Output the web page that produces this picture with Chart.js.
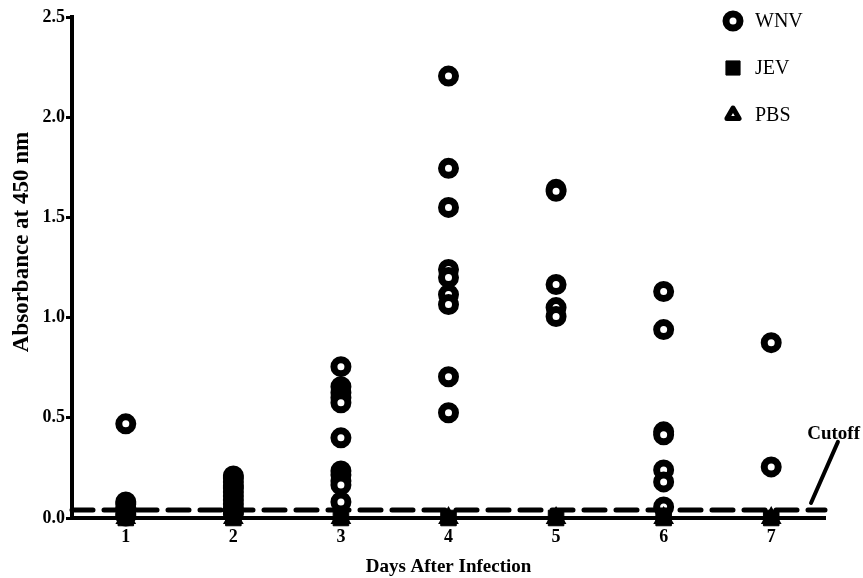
<!DOCTYPE html>
<html>
<head>
<meta charset="utf-8">
<script src="https://cdn.jsdelivr.net/npm/chart.js@4/dist/chart.umd.min.js"></script>
<style>
  html, body { margin: 0; padding: 0; background: #fff; }
</style>
</head>
<body>
<canvas id="myChart" width="863" height="578"></canvas>
<script>

// x axis: days after infection
let days = [1, 2, 3, 4, 5, 6, 7];
let dayLabels = ['1', '2', '3', '4', '5', '6', '7'];
let yTicks = [0, 0.5, 1.0, 1.5, 2.0, 2.5];

// WNV absorbance readings, one list per day
let wnvDay1 = [0.47, 0.08, 0.07, 0.05, 0.04, 0.02, 0.01];
let wnvDay2 = [0.21, 0.20, 0.18, 0.16, 0.15, 0.13, 0.11, 0.09, 0.07, 0.05, 0.03, 0.02];
let wnvDay3 = [0.755, 0.655, 0.625, 0.60, 0.575, 0.40, 0.235, 0.215, 0.185, 0.165, 0.08];
let wnvDay4 = [2.205, 1.745, 1.55, 1.24, 1.20, 1.115, 1.065, 0.705, 0.525];
let wnvDay5 = [1.64, 1.63, 1.165, 1.05, 1.005];
let wnvDay6 = [1.13, 0.94, 0.43, 0.415, 0.24, 0.18, 0.055];
let wnvDay7 = [0.875, 0.255];
let wnvByDay = [wnvDay1, wnvDay2, wnvDay3, wnvDay4, wnvDay5, wnvDay6, wnvDay7];

// JEV and PBS controls sit on the baseline
let jevValues = [0.0, 0.0, 0.0, 0.0, 0.0, 0.0, 0.0];
let pbsValues = [0.0, 0.0, 0.0, 0.0, 0.0, 0.0, 0.0];

// cutoff line + pointer to its label
let cutoffX = [0.5, 7.5];
let cutoffY = [0.04, 0.04];
let pointerX = [7.37, 7.62];
let pointerY = [0.075, 0.38];
let cutoffLabelX = 7.58;
let cutoffLabelY = 0.42;

const serif = '"Liberation Serif", "Times New Roman", serif';

//build point lists
let wnvPoints = [];
wnvByDay.forEach(function(vals, i) {
  vals.forEach(function(v) { wnvPoints.push({ x: days[i], y: v }); });
});
let jevPoints = days.map(function(d, i) { return { x: d, y: jevValues[i] }; });
let pbsPoints = days.map(function(d, i) { return { x: d, y: pbsValues[i] }; });
let cutoffPoints = cutoffX.map(function(x, i) { return { x: x, y: cutoffY[i] }; });
let pointerPoints = pointerX.map(function(x, i) { return { x: x, y: pointerY[i] }; });

// legend, y title and cutoff label
const extras = {
  id: 'extras',
  afterDraw(chart) {
    let ctx = chart.ctx;
    let xs = chart.scales.x, ys = chart.scales.y;

    ctx.save();
    ctx.fillStyle = '#000';
    ctx.textAlign = 'center';
    ctx.textBaseline = 'middle';
    ctx.translate(22, 242);
    ctx.rotate(-Math.PI / 2);
    ctx.font = 'bold 23px ' + serif;
    ctx.fillText('Absorbance at 450 nm', 0, 0);
    ctx.restore();

    ctx.save();
    ctx.fillStyle = '#000';
    ctx.font = 'bold 19px ' + serif;
    ctx.textAlign = 'center';
    ctx.textBaseline = 'middle';
    ctx.fillText('Cutoff', xs.getPixelForValue(cutoffLabelX), ys.getPixelForValue(cutoffLabelY));
    ctx.restore();

    // legend
    let items = [
      { text: 'WNV', style: 'circle', radius: 7, border: 7, fill: '#fff', y: 21 },
      { text: 'JEV', style: 'rect', radius: 10, border: 1, fill: '#000', y: 68 },
      { text: 'PBS', style: 'triangle', radius: 7, border: 5, fill: '#fff', y: 115 }
    ];
    items.forEach(function(it) {
      ctx.save();
      ctx.fillStyle = it.fill;
      ctx.strokeStyle = '#000';
      ctx.lineWidth = it.border;
      ctx.lineJoin = 'round';
      Chart.helpers.drawPoint(ctx, { pointStyle: it.style, radius: it.radius, rotation: 0, borderWidth: it.border }, 733, it.y);
      ctx.fillStyle = '#000';
      ctx.font = '20px ' + serif;
      ctx.textAlign = 'left';
      ctx.textBaseline = 'middle';
      ctx.fillText(it.text, 755, it.y + 1);
      ctx.restore();
    });
  }
};

let ctx = document.getElementById('myChart').getContext('2d');

let myChart = new Chart(ctx, {
  type: 'scatter',
  data: {
    datasets: [
      {
        label: 'Cutoff',
        data: cutoffPoints,
        showLine: true,
        borderColor: '#000',
        borderWidth: 5,
        borderDash: [21, 11],
        borderCapStyle: 'round',
        pointRadius: 0,
        clip: false
      },
      {
        label: 'pointer',
        data: pointerPoints,
        showLine: true,
        borderColor: '#000',
        borderWidth: 4,
        borderCapStyle: 'round',
        pointRadius: 0,
        clip: false
      },
      {
        label: 'JEV',
        data: jevPoints,
        pointStyle: 'rect',
        pointRadius: 11,
        pointBorderWidth: 1,
        pointBackgroundColor: '#000',
        pointBorderColor: '#000',
        clip: false
      },
      {
        label: 'PBS',
        data: pbsPoints,
        pointStyle: 'triangle',
        pointRadius: 7,
        pointBorderWidth: 5,
        pointBackgroundColor: '#000',
        pointBorderColor: '#000',
        clip: false
      },
      {
        label: 'WNV',
        data: wnvPoints,
        pointStyle: 'circle',
        pointRadius: 7,
        pointBorderWidth: 7,
        pointBackgroundColor: '#fff',
        pointBorderColor: '#000',
        clip: false
      }
    ]
  },
  options: {
    responsive: false,
    animation: false,
    events: [],
    layout: {
      padding: { top: 17, right: 38, left: 0, bottom: 0 }
    },
    plugins: {
      legend: { display: false },
      tooltip: { enabled: false }
    },
    scales: {
      x: {
        type: 'linear',
        min: 0.5,
        max: 7.5,
        afterBuildTicks: function(s) { s.ticks = days.map(function(d) { return { value: d }; }); },
        afterFit: function(s) { s.height = 60; },
        ticks: {
          autoSkip: false,
          maxRotation: 0,
          padding: 3,
          color: '#000',
          font: { family: serif, size: 18, weight: 'bold' },
          callback: function(v, i) { return dayLabels[i]; }
        },
        grid: {
          drawOnChartArea: false,
          tickLength: 6,
          tickWidth: 3,
          tickColor: '#000'
        },
        border: { display: true, color: '#000', width: 4 },
        title: {
          display: true,
          text: 'Days After Infection',
          color: '#000',
          padding: 0,
          font: { family: serif, size: 19, weight: 'bold' }
        }
      },
      y: {
        min: 0,
        max: 2.5,
        afterBuildTicks: function(s) { s.ticks = yTicks.map(function(v) { return { value: v }; }); },
        afterFit: function(s) { s.width = 72; },
        ticks: {
          padding: 1,
          color: '#000',
          font: { family: serif, size: 18, weight: 'bold' },
          callback: function(v) { return v.toFixed(1); }
        },
        grid: {
          drawOnChartArea: false,
          tickLength: 6,
          tickWidth: 3,
          tickColor: '#000'
        },
        border: { display: true, color: '#000', width: 4 }
      }
    }
  },
  plugins: [extras]
});
</script>
</body>
</html>
